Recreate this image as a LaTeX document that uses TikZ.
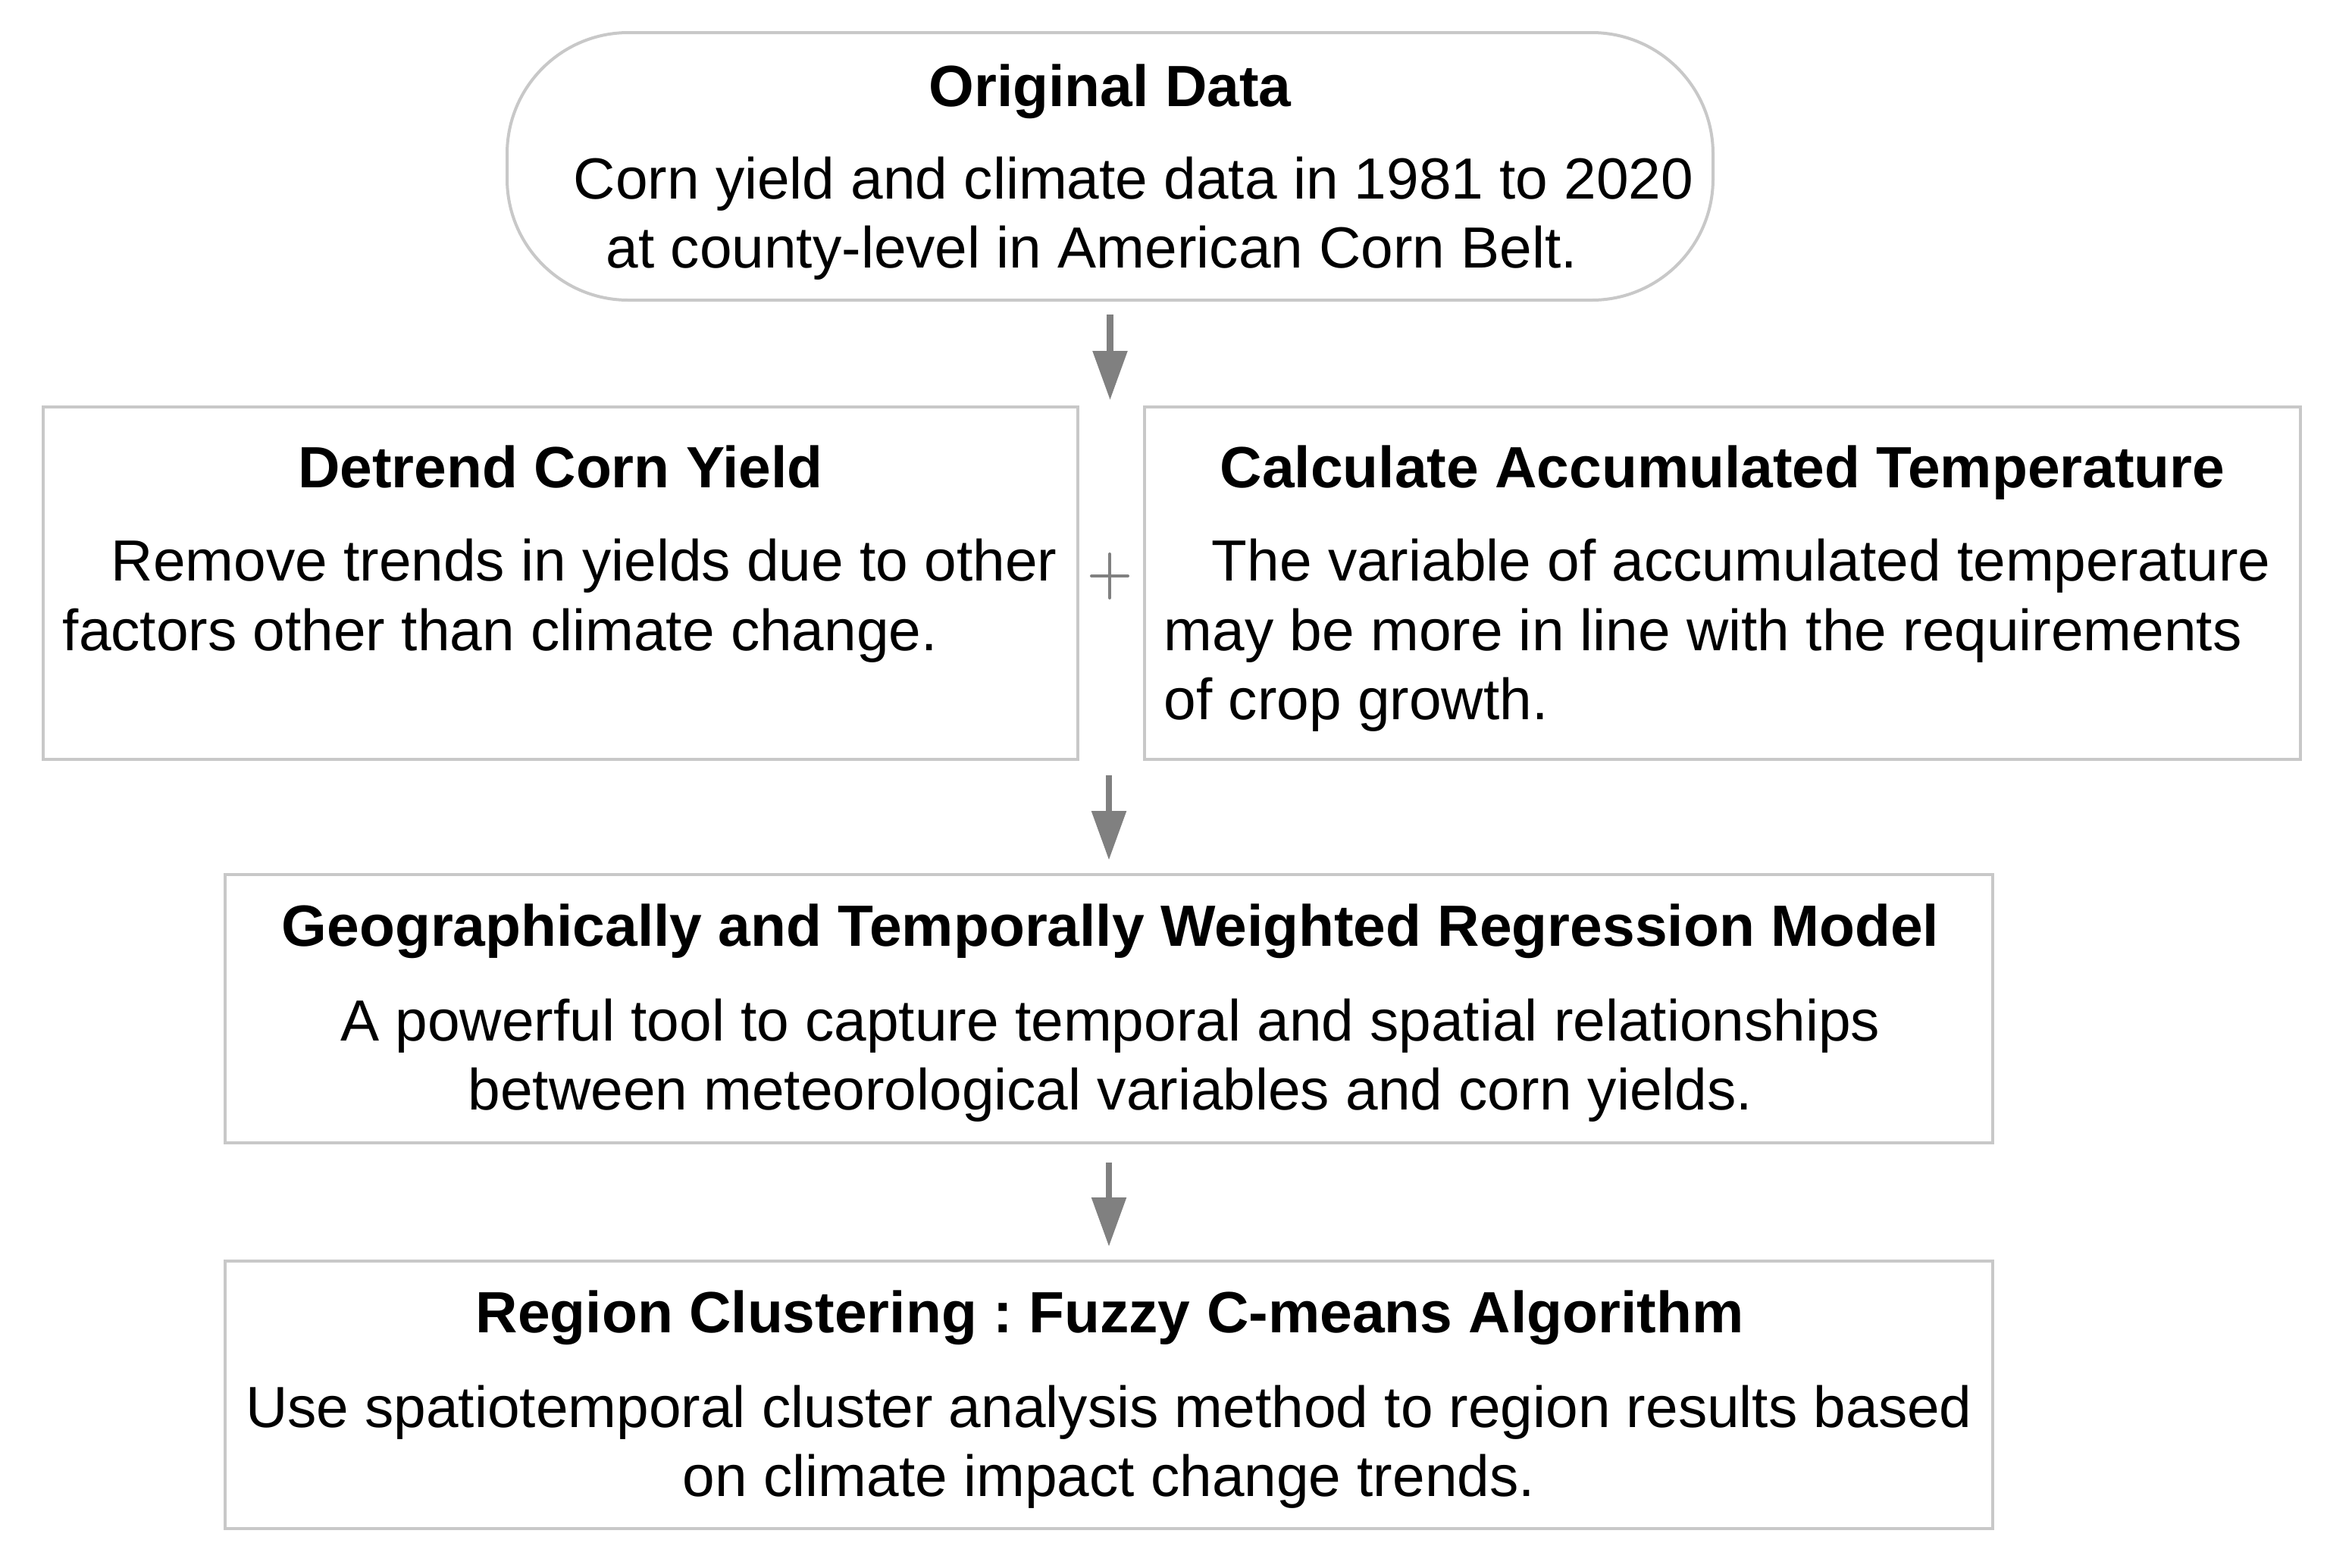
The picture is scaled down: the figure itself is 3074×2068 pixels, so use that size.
\documentclass[tikz,border=0pt]{standalone}
\usepackage{fontspec}
\setmainfont{Liberation Sans}
\usetikzlibrary{arrows.meta}
\definecolor{boxline}{RGB}{200,200,200}
\definecolor{arrowgray}{RGB}{128,128,128}
\tikzset{
  flowbox/.style={draw=boxline, line width=1pt, fill=white, inner sep=0pt},
  txt/.style={inner sep=0pt, font=\fontsize{19.15pt}{23pt}\selectfont},
  ttl/.style={inner sep=0pt, font=\fontsize{19.2pt}{23pt}\selectfont\bfseries},
  flowarrow/.style={draw=arrowgray, line width=2.2pt, -{Triangle[length=16.25pt,width=11pt]}, fill=arrowgray},
}
\frenchspacing
\begin{document}
\begin{tikzpicture}[x=0.25pt,y=-0.25pt]
\useasboundingbox (0,0) rectangle (3074,2068);
% boxes
\node[flowbox, rounded corners=40pt, minimum width=397.75pt, minimum height=88.25pt] (orig) at (1464.5,219.5) {};
\node[flowbox, minimum width=341.25pt, minimum height=116.25pt] (detrend) at (739.5,769.5) {};
\node[flowbox, minimum width=381.25pt, minimum height=116.25pt] (calc) at (2272.5,769.5) {};
\node[flowbox, minimum width=583pt, minimum height=88.5pt] (gtwr) at (1463,1331) {};
\node[flowbox, minimum width=583pt, minimum height=88.25pt] (region) at (1463,1840.5) {};
% texts: original data
\node[ttl, anchor=base] (origt) at (1464.5,140) {Original Data};
\node[txt, anchor=base west] (origb1) at (756,262) {Corn yield and climate data in 1981 to 2020};
\node[txt, anchor=base west] (origb2) at (799,353) {at county-level in American Corn Belt.};
% detrend
\node[ttl, anchor=base] (dett) at (739.5,643) {Detrend Corn Yield};
\node[txt, anchor=base west] (detb1) at (146,766) {Remove trends in yields due to other};
\node[txt, anchor=base west] (detb2) at (82,858) {factors other than climate change.};
% calc
\node[ttl, anchor=base] (calct) at (2272.5,643) {Calculate Accumulated Temperature};
\node[txt, anchor=base west] (calcb1) at (1598,766) {The variable of accumulated temperature};
\node[txt, anchor=base west] (calcb2) at (1535,858) {may be more in line with the requirements};
\node[txt, anchor=base west] (calcb3) at (1535,949) {of crop growth.};
% gtwr
\node[ttl, anchor=base] (gtwrt) at (1465,1248) {Geographically and Temporally Weighted Regression Model};
\node[txt, anchor=base] (gtwrb1) at (1465,1373) {A powerful tool to capture temporal and spatial relationships};
\node[txt, anchor=base] (gtwrb2) at (1465,1464) {between meteorological variables and corn yields.};
% region
\node[ttl, anchor=base] (regt) at (1464,1758) {Region Clustering : Fuzzy C-means Algorithm};
\node[txt, anchor=base] (regb1) at (1463,1883) {Use spatiotemporal cluster analysis method to region results based};
\node[txt, anchor=base] (regb2) at (1463,1974) {on climate impact change trends.};
% plus sign
\node[inner sep=0pt, minimum size=0pt] (plus) at (1464,760) {};
\draw[arrowgray, line width=1pt, line cap=round] ([xshift=-6pt]plus.center) -- ([xshift=6pt]plus.center);
\draw[arrowgray, line width=1pt, line cap=round] ([yshift=7.25pt]plus.center) -- ([yshift=-7.25pt]plus.center);
% arrows
\coordinate (rowtop) at (1464.5,537);
\coordinate (rowbot) at (1463,1002);
\draw[flowarrow, shorten <=4.25pt, shorten >=2.25pt] (orig.south) -- (rowtop);
\draw[flowarrow, shorten <=5.25pt, shorten >=4.25pt] (rowbot) -- (gtwr.north);
\draw[flowarrow, shorten <=6pt, shorten >=4.25pt] (gtwr.south) -- (region.north);
\end{tikzpicture}
\end{document}
